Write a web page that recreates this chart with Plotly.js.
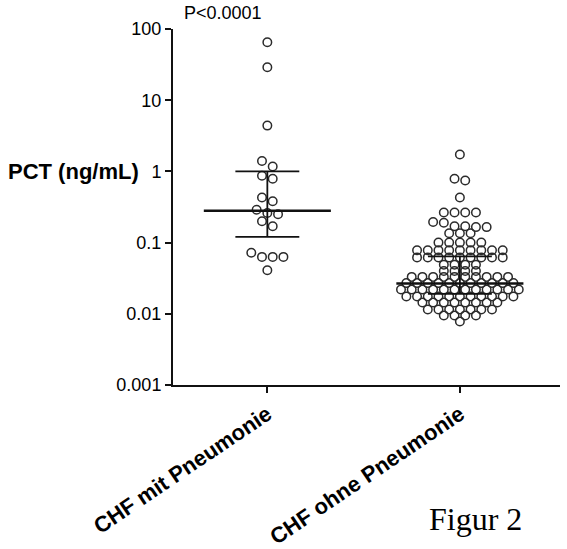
<!DOCTYPE html>
<html>
<head>
<meta charset="utf-8">
<script src="https://cdn.plot.ly/plotly-3.0.1.min.js"></script>
<style>html,body{margin:0;padding:0;background:#fff;}#chart{width:567px;height:549px;}</style>
</head>
<body>
<div id="chart"></div>
<script>
// ---- data ----
var categories = ["CHF mit Pneumonie", "CHF ohne Pneumonie"];
var pctMitPneumonie = [65, 29, 4.4, 1.4, 1.17, 0.87, 0.79, 0.43, 0.38, 0.29, 0.26, 0.25, 0.2, 0.17,
  0.072, 0.063, 0.063, 0.063, 0.041];
var pctOhnePneumonie = [1.73, 0.79, 0.745, 0.43,
  0.265, 0.265, 0.265, 0.265,
  0.195, 0.17, 0.165, 0.165, 0.17, 0.19,
  0.135, 0.135, 0.135,
  0.10, 0.10, 0.10, 0.10, 0.10,
  0.078, 0.078, 0.078, 0.078, 0.078, 0.078, 0.078, 0.078, 0.078,
  0.062, 0.062, 0.062, 0.062, 0.062, 0.062, 0.062, 0.062, 0.062,
  0.049, 0.049, 0.049, 0.049,
  0.040, 0.040, 0.040, 0.040,
  0.033, 0.033, 0.033, 0.033, 0.033, 0.033, 0.033, 0.033, 0.033, 0.033,
  0.027, 0.027, 0.027, 0.027, 0.027, 0.027, 0.027, 0.027, 0.027, 0.027, 0.027,
  0.022, 0.022, 0.022, 0.022, 0.022, 0.022, 0.022, 0.022, 0.022, 0.022, 0.022, 0.022,
  0.0175, 0.0175, 0.0175, 0.0175, 0.0175, 0.0175, 0.0175, 0.0175, 0.0175, 0.0175, 0.0175,
  0.0144, 0.0144, 0.0144, 0.0144, 0.0144, 0.0144, 0.0144, 0.0144,
  0.0115, 0.0115, 0.0115, 0.0115, 0.0115, 0.0115, 0.0115,
  0.0095, 0.0095, 0.0095, 0.0095,
  0.0078];
var medians = [0.28, 0.0266];
var q1 = [0.12, 0.019];
var q3 = [1.0, 0.064];
var yTickVals = [0.001, 0.01, 0.1, 1, 10, 100];
var yTickText = ["0.001", "0.01", "0.1", "1", "10", "100"];
var pText = "P<0.0001";
var yLabel = "PCT (ng/mL)";
var figText = "Figur 2";

// ---- layout helpers: Prism-like scatter-dot placement ----
var DX = 0.0556, TOL = 0.08;
function swarm(vals, center) {
  var s = vals.slice().sort(function (a, b) { return a - b; });
  var rows = [];
  s.forEach(function (v) {
    var lv = Math.log10(v);
    var r = rows[rows.length - 1];
    if (r && lv - r.start <= TOL) r.vals.push(v);
    else rows.push({ start: lv, vals: [v] });
  });
  var xs = [], ys = [];
  rows.forEach(function (r) {
    var rv = r.vals.slice().sort(function (a, b) { return b - a; });
    var n = rv.length;
    rv.forEach(function (v, k) {
      xs.push(center + (k - (n - 1) / 2) * DX);
      ys.push(v);
    });
  });
  return { x: xs, y: ys };
}

var groups = [pctMitPneumonie, pctOhnePneumonie];
var traces = [];
var ptColor = '#2b2b2b';
groups.forEach(function (g, i) {
  var p = swarm(g, i);
  traces.push({
    type: 'scatter', mode: 'markers', x: p.x, y: p.y, name: categories[i],
    marker: { symbol: 'circle-open', size: 8.5, color: ptColor, line: { width: 1.5, color: ptColor } },
    hoverinfo: 'y', showlegend: false
  });
});
var lineColor = '#111';
var MW = 0.33, QW = 0.166;
medians.forEach(function (m, i) {
  traces.push({ type: 'scatter', mode: 'lines', x: [i - MW, i + MW], y: [m, m],
    line: { color: lineColor, width: 2.5 }, showlegend: false, hoverinfo: 'skip' });
  traces.push({ type: 'scatter', mode: 'lines', x: [i - QW, i + QW], y: [q1[i], q1[i]],
    line: { color: lineColor, width: 1.8 }, showlegend: false, hoverinfo: 'skip' });
  traces.push({ type: 'scatter', mode: 'lines', x: [i - QW, i + QW], y: [q3[i], q3[i]],
    line: { color: lineColor, width: 1.8 }, showlegend: false, hoverinfo: 'skip' });
  traces.push({ type: 'scatter', mode: 'lines', x: [i, i], y: [q1[i], q3[i]],
    line: { color: lineColor, width: 1.8 }, showlegend: false, hoverinfo: 'skip' });
});

var sans = 'Liberation Sans, Arial, sans-serif';
var layout = {
  width: 567, height: 549,
  margin: { l: 173, r: 7, t: 29, b: 164 },
  paper_bgcolor: '#fff', plot_bgcolor: '#fff',
  showlegend: false,
  font: { family: sans, color: '#000' },
  xaxis: {
    range: [-0.49, 1.52], tickvals: [0, 1], ticktext: categories, tickangle: -34,
    ticks: 'outside', ticklen: 6, tickwidth: 2, tickcolor: lineColor,
    showline: true, linewidth: 2, linecolor: lineColor, showgrid: false, zeroline: false,
    tickfont: { family: sans, size: 22, weight: 700, color: '#000' }
  },
  yaxis: {
    type: 'log', range: [-3, 2], tickvals: yTickVals, ticktext: yTickText,
    ticks: 'outside', ticklen: 6, tickwidth: 2, tickcolor: lineColor,
    showline: true, linewidth: 2, linecolor: lineColor, showgrid: false, zeroline: false,
    tickfont: { family: sans, size: 18, color: '#000' }
  },
  annotations: [
    { text: yLabel, xref: 'paper', yref: 'y', x: -0.431, y: 0, xanchor: 'left', yanchor: 'middle',
      showarrow: false, font: { family: sans, size: 22, weight: 700, color: '#000' } },
    { text: pText, xref: 'paper', yref: 'paper', x: 0.024, y: 1.045, xanchor: 'left', yanchor: 'middle',
      showarrow: false, font: { family: sans, size: 18, color: '#000' } },
    { text: figText, xref: 'paper', yref: 'paper', x: 0.656, y: -0.376, xanchor: 'left', yanchor: 'middle',
      showarrow: false, font: { family: 'Liberation Serif, Times New Roman, serif', size: 32, color: '#000' } }
  ]
};
Plotly.newPlot('chart', traces, layout, { displayModeBar: false, staticPlot: true });
</script>
</body>
</html>
